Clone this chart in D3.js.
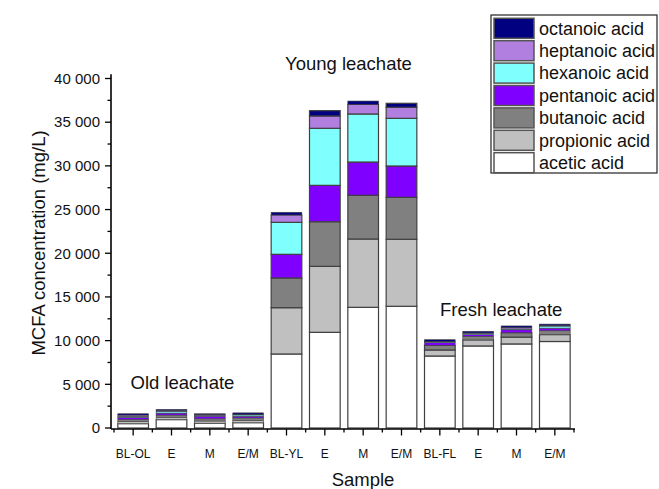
<!DOCTYPE html>
<html>
<head>
<meta charset="utf-8">
<script src="https://cdn.jsdelivr.net/npm/d3@7"></script>
<style>
  html, body { margin: 0; padding: 0; background: #fff; }
  svg { display: block; font-family: "Liberation Sans", Arial, sans-serif; }
</style>
</head>
<body>
<svg id="chart" width="659" height="489"></svg>
<script>
const categories = ["BL-OL","E","M","E/M","BL-YL","E","M","E/M","BL-FL","E","M","E/M"];
const seriesNames = ["acetic acid","propionic acid","butanoic acid","pentanoic acid","hexanoic acid","heptanoic acid","octanoic acid"];
const acetic    = [490, 950, 550, 600, 8470, 10950, 13810, 13930, 8240, 9390, 9620, 9900];
const propionic = [265, 280, 250, 250, 5300, 7550, 7820, 7670, 690, 690, 780, 780];
const butanoic  = [230, 250, 250, 300, 3400, 5110, 5000, 4800, 540, 420, 500, 450];
const pentanoic = [230, 230, 300, 200, 2710, 4160, 3810, 3590, 300, 190, 340, 300];
const hexanoic  = [115, 200, 80, 150, 3660, 6530, 5500, 5450, 80, 150, 100, 230];
const heptanoic = [150, 100, 100, 80, 840, 1410, 1100, 1260, 60, 40, 150, 80];
const octanoic  = [150, 120, 100, 150, 310, 610, 380, 460, 195, 190, 190, 150];
const seriesColors = ["#ffffff","#c0c0c0","#808080","#8000ff","#80ffff","#b07fe0","#000080"];
const yTicks = [0,5000,10000,15000,20000,25000,30000,35000,40000];
const groupLabels = ["Old leachate","Young leachate","Fresh leachate"];

const seriesValues = [acetic, propionic, butanoic, pentanoic, hexanoic, heptanoic, octanoic];
const rows = categories.map((c, i) => {
  const r = { idx: i };
  seriesNames.forEach((s, k) => r[s] = seriesValues[k][i]);
  return r;
});

const svg = d3.select("#chart");
const x0 = 114, x1 = 574, yBase = 428;
const x = d3.scaleBand().domain(d3.range(categories.length)).range([x0, x1]).paddingInner(0.2).paddingOuter(0.1);
const y = d3.scaleLinear().domain([0, 40000]).range([yBase, 78.5]);
const yTopVal = 40500;

const stack = d3.stack().keys(seriesNames)(rows);
const color = d3.scaleOrdinal().domain(seriesNames).range(seriesColors);

// bars
svg.append("g").selectAll("g").data(stack).join("g")
  .attr("fill", d => color(d.key))
  .selectAll("rect").data(d => d).join("rect")
  .attr("x", d => x(d.data.idx))
  .attr("width", x.bandwidth())
  .attr("y", d => y(d[1]))
  .attr("height", d => y(d[0]) - y(d[1]))
  .attr("stroke", "#404040")
  .attr("stroke-width", d => (y(d[0]) - y(d[1])) < 4 ? 0.6 : 1.2);

// y axis
const yAxisX = 111;
const gy = svg.append("g").attr("transform", `translate(${yAxisX},0)`);
gy.append("line").attr("x1", 0).attr("x2", 0).attr("y1", yBase + 1).attr("y2", y(yTopVal)).attr("stroke", "#000").attr("stroke-width", 1.6);
const yMinor = d3.range(2500, 40000, 5000);
gy.selectAll(".ymin").data(yMinor).join("line")
  .attr("x1", -3.5).attr("x2", 0).attr("y1", d => y(d)).attr("y2", d => y(d)).attr("stroke", "#000").attr("stroke-width", 1.3);
gy.selectAll(".ymaj").data(yTicks).join("line")
  .attr("x1", -6).attr("x2", 0).attr("y1", d => y(d)).attr("y2", d => y(d)).attr("stroke", "#000").attr("stroke-width", 1.3);
const fmt = v => d3.format(",")(v).replace(/,/g, " ");
gy.selectAll(".ylab").data(yTicks).join("text")
  .attr("x", -11).attr("y", d => y(d)).attr("dy", "0.35em")
  .attr("text-anchor", "end").attr("font-size", 15).attr("fill", "#111")
  .text(fmt);

// x axis
const gx = svg.append("g");
gx.append("line").attr("x1", yAxisX).attr("x2", x1 + 1).attr("y1", yBase + 1).attr("y2", yBase + 1).attr("stroke", "#000").attr("stroke-width", 1.6);
const bounds = d3.range(categories.length + 1).map(i => x0 + i * x.step());
gx.selectAll(".xmin").data(bounds).join("line")
  .attr("x1", d => d).attr("x2", d => d).attr("y1", yBase + 1).attr("y2", yBase + 4.5).attr("stroke", "#000").attr("stroke-width", 1.3);
gx.selectAll(".xmaj").data(d3.range(categories.length)).join("line")
  .attr("x1", d => x(d) + x.bandwidth() / 2).attr("x2", d => x(d) + x.bandwidth() / 2)
  .attr("y1", yBase + 1).attr("y2", yBase + 7.5).attr("stroke", "#000").attr("stroke-width", 1.3);
gx.selectAll(".xlab").data(d3.range(categories.length)).join("text")
  .attr("x", d => x(d) + x.bandwidth() / 2).attr("y", 458)
  .attr("text-anchor", "middle").attr("font-size", 12).attr("fill", "#111")
  .text(d => categories[d]);

// axis titles
svg.append("text").attr("x", 363).attr("y", 486).attr("text-anchor", "middle").attr("font-size", 18.5).attr("fill", "#111").text("Sample");
svg.append("text").attr("transform", "translate(45,243) rotate(-90)").attr("text-anchor", "middle").attr("font-size", 18.5).attr("fill", "#111").text("MCFA concentration (mg/L)");

// group annotations
const annPos = [[130.5, 389], [285, 70], [440, 315.5]];
svg.selectAll(".ann").data(groupLabels).join("text")
  .attr("x", (d, i) => annPos[i][0]).attr("y", (d, i) => annPos[i][1])
  .attr("font-size", 18.5).attr("fill", "#111").text(d => d);

// legend
const lg = svg.append("g");
lg.append("rect").attr("x", 491).attr("y", 15).attr("width", 166).attr("height", 158)
  .attr("fill", "#fff").attr("stroke", "#222").attr("stroke-width", 1.2);
const legendOrder = seriesNames.slice().reverse();
const li = lg.selectAll(".li").data(legendOrder).join("g")
  .attr("transform", (d, i) => `translate(0,${18.3 + i * 22.4})`);
li.append("rect").attr("x", 494).attr("y", 0).attr("width", 40).attr("height", 20)
  .attr("fill", d => color(d)).attr("stroke", "#555").attr("stroke-width", 1.5);
li.append("text").attr("x", 539).attr("y", 10).attr("dy", "0.35em")
  .attr("font-size", 18).attr("fill", "#111").text(d => d);
</script>
</body>
</html>
